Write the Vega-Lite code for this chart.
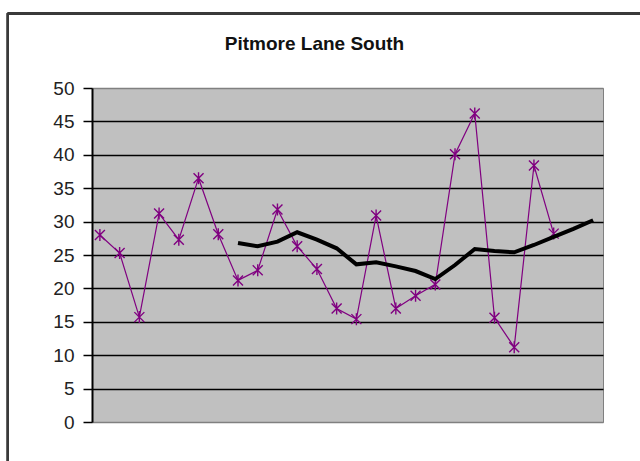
{
  "$schema": "https://vega.github.io/schema/vega-lite/v6.json",
  "width": 511,
  "height": 334,
  "autosize": {"type": "none"},
  "padding": {"left": 92, "top": 88, "right": 37, "bottom": 39},
  "background": "white",
  "title": {
    "text": "Pitmore Lane South",
    "font": "Liberation Sans",
    "fontSize": 19,
    "fontWeight": "bold",
    "color": "#111111",
    "anchor": "middle",
    "dx": -33,
    "offset": -42
  },
  "data": {
    "values": [
      {"t": 1, "v": 28.0, "ma": null},
      {"t": 2, "v": 25.3, "ma": null},
      {"t": 3, "v": 15.7, "ma": null},
      {"t": 4, "v": 31.2, "ma": null},
      {"t": 5, "v": 27.3, "ma": null},
      {"t": 6, "v": 36.5, "ma": null},
      {"t": 7, "v": 28.1, "ma": null},
      {"t": 8, "v": 21.2, "ma": 26.8},
      {"t": 9, "v": 22.7, "ma": 26.3},
      {"t": 10, "v": 31.8, "ma": 27.0},
      {"t": 11, "v": 26.3, "ma": 28.4},
      {"t": 12, "v": 22.9, "ma": 27.3},
      {"t": 13, "v": 17.0, "ma": 26.0},
      {"t": 14, "v": 15.4, "ma": 23.6},
      {"t": 15, "v": 30.9, "ma": 23.9},
      {"t": 16, "v": 17.0, "ma": 23.3},
      {"t": 17, "v": 18.9, "ma": 22.6},
      {"t": 18, "v": 20.6, "ma": 21.4},
      {"t": 19, "v": 40.1, "ma": 23.5},
      {"t": 20, "v": 46.2, "ma": 25.9},
      {"t": 21, "v": 15.6, "ma": 25.6},
      {"t": 22, "v": 11.2, "ma": 25.4},
      {"t": 23, "v": 38.4, "ma": 26.5},
      {"t": 24, "v": 28.2, "ma": 27.7},
      {"t": 25, "v": null, "ma": 28.9},
      {"t": 26, "v": null, "ma": 30.2}
    ]
  },
  "encoding": {
    "x": {"field": "t", "type": "quantitative", "scale": {"domain": [0.6, 26.5]}, "axis": null}
  },
  "layer": [
    {
      "mark": {"type": "line", "color": "#800080", "strokeWidth": 1.2},
      "encoding": {
        "y": {
          "field": "v",
          "type": "quantitative",
          "scale": {"domain": [0, 50], "nice": false},
          "axis": {
            "title": null,
            "values": [0, 5, 10, 15, 20, 25, 30, 35, 40, 45, 50],
            "tickCount": 11,
            "labelOverlap": false,
            "grid": true,
            "gridColor": {"condition": {"test": "datum.value == 0 || datum.value == 50", "value": "#808080"}, "value": "#000000"},
            "gridWidth": 1.5,
            "domainColor": "#000000",
            "domainWidth": 2,
            "tickColor": "#000000",
            "tickWidth": 1.5,
            "tickSize": 9,
            "labelPadding": 9,
            "labelFont": "Liberation Sans",
            "labelFontSize": 19,
            "labelColor": "#222222"
          }
        }
      }
    },
    {
      "mark": {"type": "point", "shape": "M-1,-1L1,1M-1,1L1,-1M0,-1.2L0,1.2", "filled": false, "size": 100, "color": "#800080", "strokeWidth": 1.4, "opacity": 1},
      "encoding": {"y": {"field": "v", "type": "quantitative"}}
    },
    {
      "mark": {"type": "line", "color": "#000000", "strokeWidth": 4},
      "encoding": {"y": {"field": "ma", "type": "quantitative"}}
    },
    {
      "mark": {"type": "rule", "color": "#3a3a3a", "strokeWidth": 2, "clip": false},
      "encoding": {
        "x": {"datum": -3.66, "type": "quantitative"},
        "y": {"datum": 61.2, "type": "quantitative", "title": null},
        "y2": {"datum": -12}
      }
    },
    {
      "mark": {"type": "rule", "color": "#3a3a3a", "strokeWidth": 2, "clip": false},
      "encoding": {
        "x": {"datum": -3.66, "type": "quantitative"},
        "x2": {"datum": 40},
        "y": {"datum": 61.2, "type": "quantitative", "title": null}
      }
    }
  ],
  "config": {
    "view": {"fill": "#C0C0C0", "stroke": "#808080", "strokeWidth": 1}
  }
}
